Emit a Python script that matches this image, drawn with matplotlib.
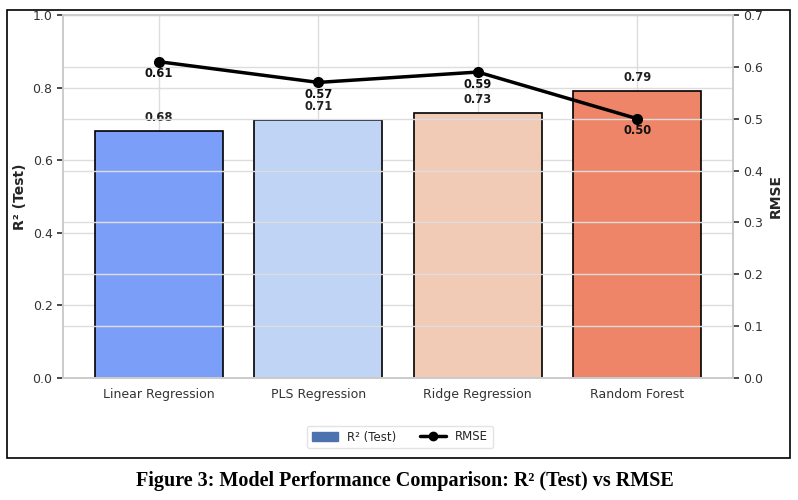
import matplotlib

matplotlib.use("Agg")

import matplotlib.pyplot as plt
import seaborn as sns
from matplotlib.lines import Line2D
from matplotlib.patches import Patch, Rectangle

models = ["Linear Regression", "PLS Regression", "Ridge Regression", "Random Forest"]
r2_test = [0.68, 0.71, 0.73, 0.79]
rmse = [0.61, 0.57, 0.59, 0.50]
bar_colors = ["#7b9ff9", "#c0d4f5", "#f2cbb7", "#ee8468"]

sns.set_theme(style="whitegrid")
plt.rcParams["font.family"] = ["DejaVu Sans"]

fig = plt.figure(figsize=(7.98, 5.0), dpi=100)
ax = fig.add_axes([63 / 798, 1 - 378 / 500, (733 - 63) / 798, (378 - 15) / 500])

x = range(len(models))
ax.bar(x, r2_test, width=0.8, color=bar_colors, edgecolor="black", linewidth=1.2, zorder=2)
for xi, v in zip(x, r2_test):
    ax.annotate(f"{v:.2f}", (xi, v), xytext=(0, 5), textcoords="offset points",
                ha="center", va="bottom", fontsize=8.3, fontweight="bold", color="#222222")
ax.set_xlim(-0.6, 3.6)
ax.set_ylim(0, 1.0)
ax.set_xticks(list(x))
ax.set_xticklabels(models, fontsize=9, color="#333333")
ax.set_ylabel("R² (Test)", fontsize=10, fontweight="bold")
ax.tick_params(axis="y", labelsize=9, colors="#333333", left=True, length=4, color="#333333")
ax.tick_params(axis="x", length=0, pad=7)
ax.grid(True, color="#dddddd", linewidth=1)
for sp in ax.spines.values():
    sp.set_color("#cccccc")

ax2 = ax.twinx()
ax2.plot(list(x), rmse, color="black", marker="o", markersize=7, linewidth=2.5, zorder=3)
for xi, v in zip(x, rmse):
    ax2.annotate(f"{v:.2f}", (xi, v), xytext=(0, -4), textcoords="offset points",
                 ha="center", va="top", fontsize=8.3, fontweight="bold", color="#111111")
ax2.set_ylim(0, 0.7)
ax2.set_ylabel("RMSE", fontsize=10, fontweight="bold")
ax2.tick_params(axis="y", labelsize=9, colors="#333333", right=True, length=4, color="#333333")
ax2.grid(True, axis="y", color="#dddddd", linewidth=1)
for sp in ax2.spines.values():
    sp.set_color("#cccccc")

handles = [
    Patch(color="#4c72b0", label="R² (Test)"),
    Line2D([0], [0], color="black", marker="o", linewidth=2.5, markersize=6, label="RMSE"),
]
fig.legend(handles=handles, loc="center", bbox_to_anchor=(400 / 798, 1 - 437 / 500), ncol=2,
           fontsize=8.5, frameon=True, edgecolor="#dddddd", handlelength=2.2, columnspacing=2)

fig.patches.append(Rectangle((7 / 798, 1 - 458 / 500), (790 - 7) / 798, (458 - 10) / 500,
                             transform=fig.transFigure, fill=False, edgecolor="black", linewidth=1.2))

fig.text(405 / 798, 1 - 481 / 500, "Figure 3: Model Performance Comparison: R² (Test) vs RMSE",
         ha="center", va="center", fontsize=14.5, fontweight="bold", family="Liberation Serif",
         color="black")

fig.savefig("out.png", dpi=100)
